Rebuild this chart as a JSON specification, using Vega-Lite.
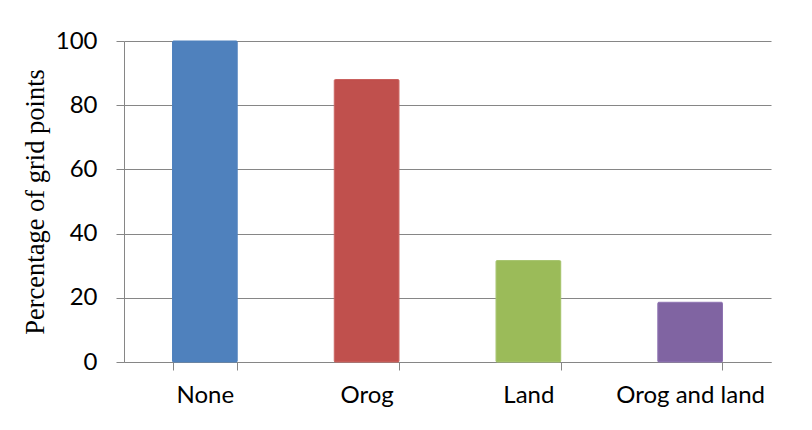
{
  "$schema": "https://vega.github.io/schema/vega-lite/v6.json",
  "autosize": "none",
  "width": 647,
  "height": 321,
  "padding": {"left": 124, "top": 41, "right": 41, "bottom": 68},
  "background": "white",
  "data": {
    "values": [
      {"category": "None", "pct": 100},
      {"category": "Orog", "pct": 88},
      {"category": "Land", "pct": 31.6},
      {"category": "Orog and land", "pct": 18.6}
    ]
  },
  "mark": {"type": "bar", "strokeWidth": 1, "cornerRadius": 1},
  "encoding": {
    "x": {
      "field": "category",
      "type": "nominal",
      "sort": null,
      "scale": {"paddingInner": 0.6, "paddingOuter": 0.3},
      "axis": {
        "title": null,
        "labelAngle": 0,
        "tickBand": "extent",
        "tickSize": 8,
        "labelPadding": 13,
        "labelFont": "Lato",
        "labelFontSize": 24,
        "labelColor": "#000000",
        "domainColor": "#868686",
        "tickColor": "#868686",
        "grid": false
      }
    },
    "y": {
      "field": "pct",
      "type": "quantitative",
      "scale": {"domain": [0, 100], "nice": false},
      "axis": {
        "title": "Percentage of grid points",
        "values": [0, 20, 40, 60, 80, 100],
        "tickSize": 8,
        "labelPadding": 19,
        "labelFont": "Lato",
        "labelFontSize": 24,
        "labelColor": "#000000",
        "titleFont": "Liberation Serif",
        "titleFontSize": 26.5,
        "titleFontWeight": "normal",
        "titleColor": "#000000",
        "titlePadding": 6,
        "domainColor": "#868686",
        "tickColor": "#868686",
        "gridColor": "#868686",
        "gridWidth": 1.2
      }
    },
    "color": {
      "field": "category",
      "type": "nominal",
      "sort": null,
      "scale": {
        "domain": ["None", "Orog", "Land", "Orog and land"],
        "range": ["#4F81BD", "#C0504D", "#9BBB59", "#8064A2"]
      },
      "legend": null
    },
    "stroke": {
      "field": "category",
      "type": "nominal",
      "sort": null,
      "scale": {
        "domain": ["None", "Orog", "Land", "Orog and land"],
        "range": ["#4F81BD", "#C9605D", "#A5C36A", "#8C72B0"]
      },
      "legend": null
    }
  },
  "config": {"view": {"stroke": null}}
}
